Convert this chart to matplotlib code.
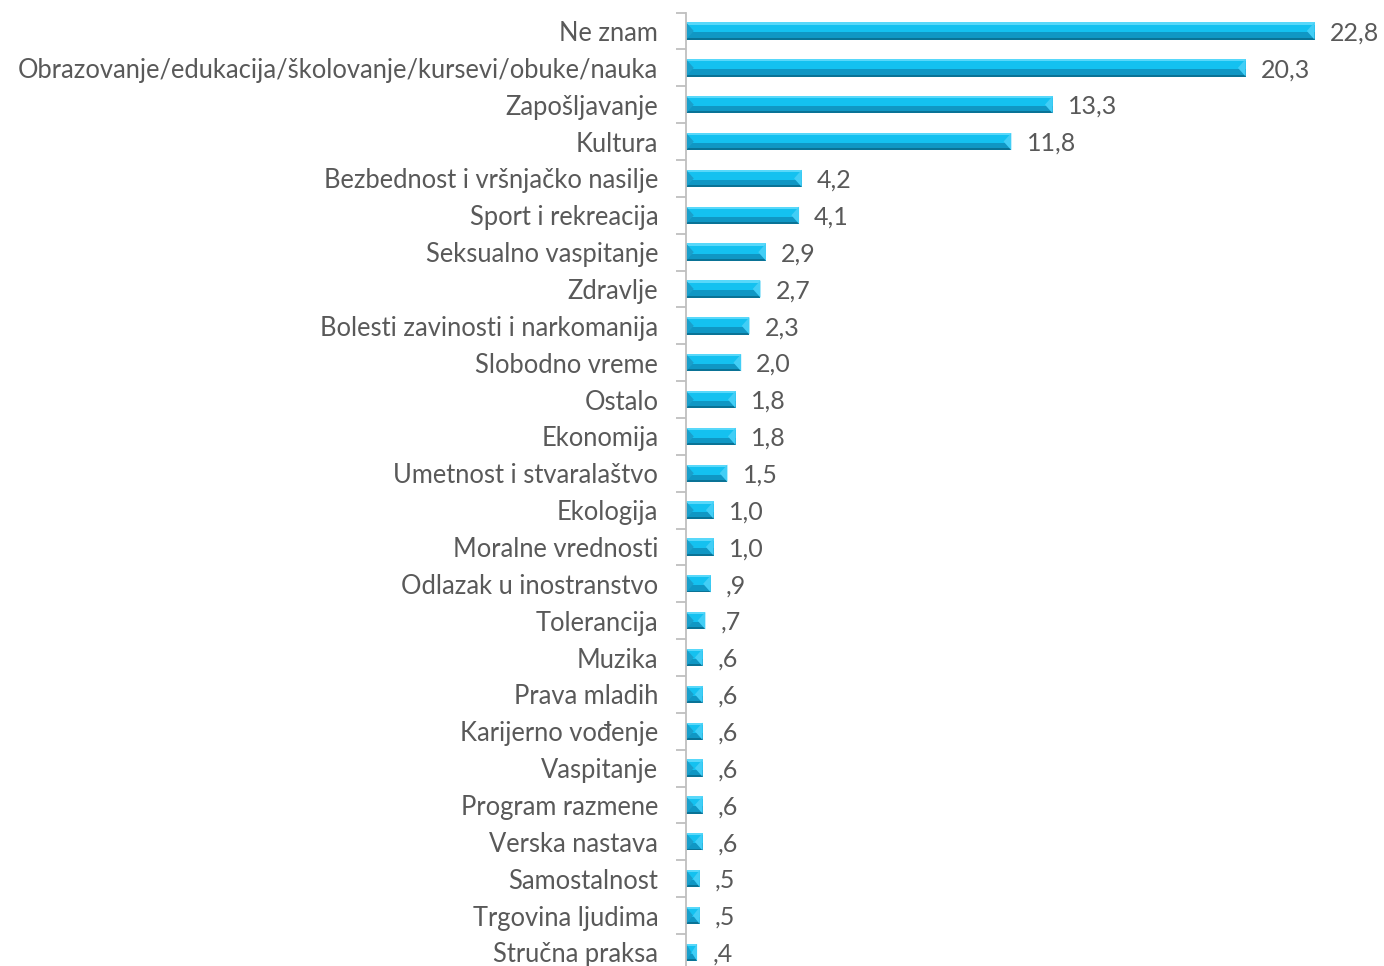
import matplotlib.pyplot as plt
from matplotlib.patches import Polygon, Rectangle

categories = ['Ne znam', 'Obrazovanje/edukacija/školovanje/kursevi/obuke/nauka',
              'Zapošljavanje', 'Kultura', 'Bezbednost i vršnjačko nasilje',
              'Sport i rekreacija', 'Seksualno vaspitanje', 'Zdravlje',
              'Bolesti zavinosti i narkomanija', 'Slobodno vreme', 'Ostalo',
              'Ekonomija', 'Umetnost i stvaralaštvo', 'Ekologija',
              'Moralne vrednosti', 'Odlazak u inostranstvo', 'Tolerancija',
              'Muzika', 'Prava mladih', 'Karijerno vođenje', 'Vaspitanje',
              'Program razmene', 'Verska nastava', 'Samostalnost',
              'Trgovina ljudima', 'Stručna praksa']
values = [22.8, 20.3, 13.3, 11.8, 4.2, 4.1, 2.9, 2.7, 2.3, 2.0, 1.8, 1.8, 1.5,
          1.0, 1.0, 0.9, 0.7, 0.6, 0.6, 0.6, 0.6, 0.6, 0.6, 0.5, 0.5, 0.4]
labels = ['22,8', '20,3', '13,3', '11,8', '4,2', '4,1', '2,9', '2,7', '2,3', '2,0',
          '1,8', '1,8', '1,5', '1,0', '1,0', ',9', ',7', ',6', ',6', ',6', ',6',
          ',6', ',6', ',5', ',5', ',4']

plt.rcParams['font.family'] = ['Lato', 'DejaVu Sans']

fig = plt.figure(figsize=(13.84, 9.66), dpi=100)
ax = fig.add_axes([0.4957, -0.005, 0.478, 0.992])

H = 0.47       # bar thickness in category units
BEV = 0.28     # bevel length in data units


def bevel_bar(ax, y, v):
    top, bot = y - H / 2, y + H / 2
    b = min(BEV, v / 2)
    # base faces: light upper part, darker lower part
    ax.add_patch(Rectangle((0, top), v, H, fc='#14C1F0', ec='none'))
    ax.add_patch(Rectangle((0, y + H * 0.08), v, H * 0.42, fc='#1097C4', ec='none'))
    ax.add_patch(Rectangle((0, top), v, H * 0.13, fc='#58D8FA', ec='none'))
    ax.add_patch(Rectangle((0, bot - H * 0.11), v, H * 0.11, fc='#0A7396', ec='none'))
    # end bevels
    ax.add_patch(Polygon([(0, top), (b, y), (0, bot)], fc='#1A9FCB', ec='none'))
    ax.add_patch(Polygon([(v, top), (v - b, y), (v, bot)], fc='#42CEF6', ec='none'))


for i, v in enumerate(values):
    bevel_bar(ax, i, v)
    ax.text(v + 0.55, i + 0.05, labels[i], va='center', ha='left', fontsize=18, color='#595959')

ax.set_xlim(0, 24)
ax.set_ylim(len(values) - 0.5, -0.5)
ax.set_yticks(range(len(values)))
ax.set_yticklabels(categories, fontsize=18.4, color='#595959')
ax.set_yticks([i - 0.5 for i in range(len(values) + 1)], minor=True)
ax.tick_params(axis='y', which='major', length=0, pad=20)
ax.tick_params(axis='y', which='minor', length=7, color='#BFBFBF', width=1.3)
ax.set_xticks([])
for s in ['top', 'right', 'bottom']:
    ax.spines[s].set_visible(False)
ax.spines['left'].set_color('#BFBFBF')
ax.spines['left'].set_linewidth(1.3)

fig.savefig('out.png', dpi=100)
